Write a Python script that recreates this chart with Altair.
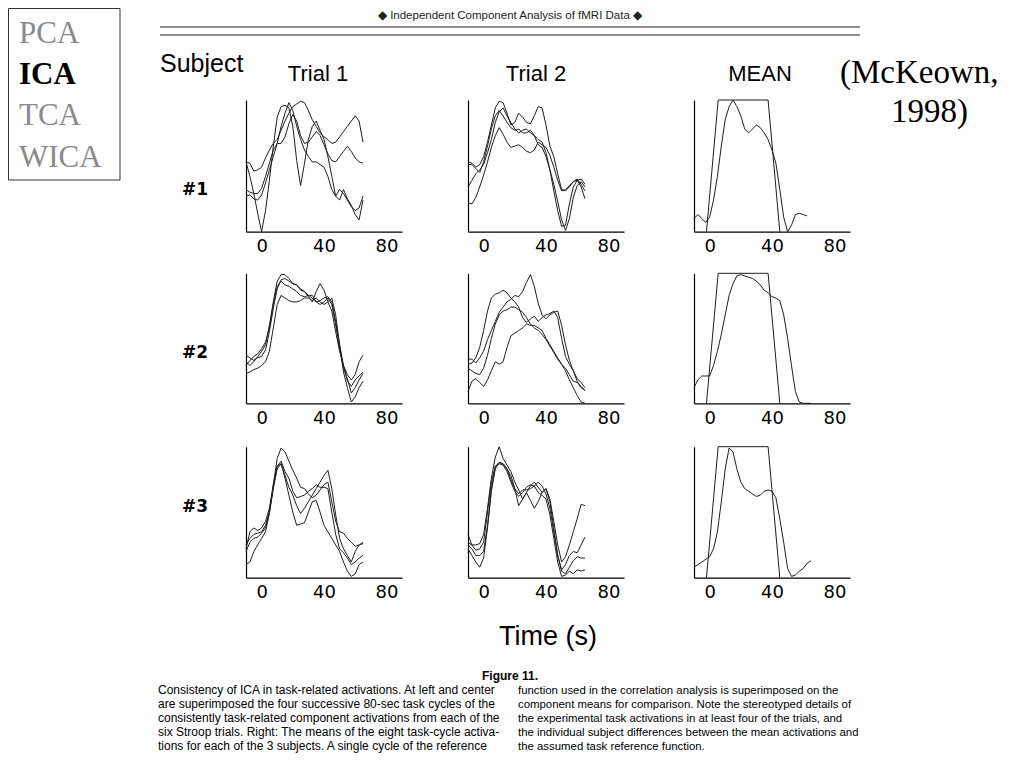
import altair as alt
import pandas as pd

# ---------------- data ----------------
T = [-10, -7.5, -5, -2.5, 0, 2.5, 5, 7.5, 10, 12.5, 15, 17.5, 20, 22.5, 25, 27.5,
     30, 32.5, 35, 37.5, 40, 42.5, 45, 47.5, 50, 52.5, 55, 57.5, 60, 62.5, 65]

S1_T1 = [
    [.53,.52,.46,.47,.49,.56,.62,.67,.70,.77,.84,.90,.95,.97,.99,.98,.92,.85,.80,.75,.72,.70,.67,.68,.72,.76,.80,.84,.88,.84,.68],
    [.32,.30,.29,.29,.33,.42,.52,.62,.67,.67,.72,.82,.89,.84,.73,.67,.68,.72,.76,.73,.66,.59,.54,.53,.57,.61,.65,.61,.56,.53,.52],
    [.53,.42,.29,.14,0,.16,.39,.65,.87,.95,.96,.94,.80,.54,.35,.52,.70,.80,.84,.77,.70,.57,.42,.27,.24,.32,.25,.20,.13,.09,.24],
    [.27,.28,.25,.24,.28,.37,.47,.57,.67,.80,.90,.98,.92,.80,.70,.62,.57,.53,.53,.51,.49,.42,.32,.27,.32,.29,.24,.19,.16,.18,.27],
]
S1_T2 = [
    [.53,.52,.49,.51,.57,.68,.81,.94,.99,.98,.90,.81,.83,.90,.87,.83,.82,.88,.95,.94,.81,.65,.57,.44,.32,.31,.34,.38,.40,.36,.31],
    [.22,.21,.26,.34,.43,.53,.64,.73,.79,.74,.68,.64,.65,.66,.64,.61,.60,.62,.68,.66,.64,.58,.49,.39,.31,.32,.35,.38,.39,.34,.25],
    [.34,.39,.44,.47,.51,.60,.70,.83,.91,.94,.88,.83,.78,.75,.77,.78,.75,.73,.70,.68,.60,.47,.31,.16,.04,.05,.21,.34,.39,.40,.36],
    [.51,.51,.48,.45,.53,.65,.78,.88,.92,.88,.83,.79,.77,.78,.75,.75,.77,.73,.66,.64,.57,.47,.36,.23,.09,.01,.10,.26,.35,.38,.34],
]
S1_MEAN = [.10,.13,.10,.07,.11,.24,.42,.65,.85,.95,1.0,.95,.88,.78,.75,.78,.81,.79,.75,.70,.62,.52,.32,.11,0,.05,.13,.14,.13,.12,None]

S2_T1 = [
    [.32,.29,.32,.36,.40,.45,.60,.78,.94,.99,.99,.96,.92,.91,.88,.86,.83,.81,.78,.79,.81,.82,.78,.63,.45,.29,.17,.13,.18,.21,.24],
    [.37,.35,.33,.35,.36,.41,.55,.73,.88,.95,.96,.94,.92,.91,.87,.86,.82,.78,.86,.92,.87,.78,.71,.55,.40,.29,.22,.18,.22,.32,.37],
    [.23,.24,.26,.27,.29,.32,.40,.58,.76,.83,.81,.79,.78,.78,.79,.81,.81,.79,.81,.78,.76,.78,.81,.68,.45,.24,.12,.01,.05,.12,.17],
    [.29,.33,.36,.38,.42,.47,.58,.76,.90,.94,.91,.90,.88,.86,.83,.82,.83,.83,.78,.76,.78,.81,.76,.60,.42,.27,.19,.08,.12,.18,.23],
]
S2_T2 = [
    [.34,.34,.31,.35,.40,.49,.56,.63,.70,.74,.78,.80,.83,.82,.86,.93,.99,.90,.77,.68,.65,.68,.70,.71,.60,.45,.33,.25,.17,.12,.10],
    [.30,.31,.35,.43,.56,.71,.81,.84,.85,.87,.85,.81,.78,.74,.66,.62,.65,.67,.63,.66,.68,.69,.71,.66,.50,.36,.30,.25,.19,.16,.12],
    [.09,.17,.19,.16,.13,.18,.25,.32,.30,.32,.43,.52,.54,.56,.58,.61,.60,.60,.58,.56,.50,.45,.40,.35,.30,.25,.18,.12,.06,.01,0],
    [.27,.25,.23,.22,.27,.37,.50,.61,.68,.71,.72,.74,.74,.72,.70,.66,.61,.58,.56,.53,.49,.44,.39,.34,.30,.27,.22,.17,.16,.13,.10],
]
S2_MEAN = [.12,.18,.21,.21,.21,.29,.40,.53,.68,.83,.92,.98,.99,.98,.97,.96,.94,.91,.87,.85,.82,.81,.79,.68,.50,.29,.09,.01,0,0,0]

S3_T1 = [
    [.25,.30,.33,.34,.35,.40,.50,.71,.91,.99,.96,.89,.82,.76,.69,.68,.64,.61,.63,.67,.71,.73,.58,.43,.35,.34,.30,.27,.24,.25,.27],
    [.20,.27,.30,.31,.34,.38,.50,.69,.83,.87,.78,.69,.63,.55,.49,.53,.58,.63,.68,.73,.78,.82,.68,.48,.30,.22,.17,.12,.20,.25,.26],
    [.10,.12,.20,.25,.30,.35,.49,.68,.85,.87,.76,.63,.50,.40,.41,.42,.50,.58,.59,.50,.40,.35,.30,.25,.20,.12,.05,.01,.03,.10,.12],
    [.22,.35,.38,.36,.38,.43,.53,.71,.85,.89,.81,.76,.66,.61,.62,.63,.66,.68,.71,.69,.69,.68,.50,.33,.22,.19,.15,.10,.12,.15,.17],
]
S3_T2 = [
    [.27,.25,.25,.26,.33,.53,.76,.92,1.0,.91,.86,.81,.73,.67,.60,.65,.70,.73,.69,.65,.68,.60,.43,.25,.12,.16,.25,.35,.45,.56,.55],
    [.33,.25,.21,.22,.27,.50,.73,.85,.88,.87,.83,.78,.68,.55,.60,.65,.59,.53,.58,.65,.68,.58,.38,.17,.06,.10,.17,.20,.19,.25,.31],
    [.22,.17,.12,.08,.15,.38,.66,.83,.88,.87,.83,.75,.68,.64,.67,.67,.68,.70,.73,.70,.64,.53,.35,.17,.05,.03,.08,.13,.16,.15,.15],
    [.25,.22,.17,.17,.20,.40,.68,.85,.87,.86,.81,.73,.66,.62,.65,.69,.71,.70,.65,.63,.60,.48,.30,.12,.01,.02,.05,.03,.06,.05,.06],
]
S3_MEAN = [.08,.10,.12,.14,.16,.22,.35,.58,.83,.99,.96,.83,.73,.68,.66,.64,.62,.63,.66,.67,.66,.61,.45,.27,.07,.01,.02,.05,.07,.11,.13]

REF_T = [-2, 5.5, 37.5, 45]
REF_V = [0, 1, 1, 0]

X_TICKS = [0, 40, 80]
METHODS = ["PCA", "ICA", "TCA", "WICA"]
COLUMN_TITLES = ["Trial 1", "Trial 2", "MEAN"]
ROW_TITLES = ["#1", "#2", "#3"]
HEADER = "\u25C6 Independent Component Analysis of fMRI Data \u25C6"
CAPTION_LEFT = [
    "Consistency of ICA in task-related activations. At left and center",
    "are superimposed the four successive 80-sec task cycles of the",
    "consistently task-related component activations from each of the",
    "six Stroop trials. Right: The means of the eight task-cycle activa-",
    "tions for each of the 3 subjects. A single cycle of the reference",
]
CAPTION_RIGHT = [
    "function used in the correlation analysis is superimposed on the",
    "component means for comparison. Note the stereotyped details of",
    "the experimental task activations in at least four of the trials, and",
    "the individual subject differences between the mean activations and",
    "the assumed task reference function.",
]

# ---------------- layout ----------------
W, H = 1000, 746
COL_X = [(238, 394), (460, 616), (686, 842)]
ROW_Y = [(223.7, 92), (395.3, 265.3), (569.7, 438.7)]
SANS = "Liberation Sans"
WIDE = "DejaVu Sans"
SERIF = "Liberation Serif"
LINE_COLOR = "#1e1e1e"

dummy = pd.DataFrame({"d": [0]})


def panel(curves, ref, col, row):
    recs = []
    for k, c in enumerate(curves):
        for t, v in zip(T, c):
            if v is not None:
                recs.append({"t": t, "v": v, "s": f"c{k}"})
    if ref:
        for t, v in zip(REF_T, REF_V):
            recs.append({"t": t, "v": v, "s": "ref"})
    df = pd.DataFrame(recs)
    x0, x1 = COL_X[col]
    yb, yt = ROW_Y[row]
    return alt.Chart(df).mark_line(color=LINE_COLOR, strokeWidth=1).encode(
        x=alt.X("t:Q",
                scale=alt.Scale(domain=[-10, 90], range=[x0, x1], nice=False, zero=False),
                axis=alt.Axis(orient="bottom", offset=-(H - yb), values=X_TICKS, title=None,
                              grid=False, ticks=False, labelFlush=False, labelFont=WIDE,
                              labelFontSize=18, labelColor="black", labelPadding=6,
                              domainColor="black", domainWidth=1.2)),
        y=alt.Y("v:Q",
                scale=alt.Scale(domain=[0, 1], range=[yb, yt], nice=False, zero=False),
                axis=alt.Axis(orient="left", offset=-x0, title=None, grid=False, ticks=False,
                              labels=False, domainColor="black", domainWidth=1.2)),
        detail="s:N",
    )


def txt(s, x, y, size, font=SANS, weight="normal", color="black", align="left"):
    return alt.Chart(dummy).mark_text(
        text=s, fontSize=size, font=font, fontWeight=weight, color=color,
        align=align, baseline="alphabetic"
    ).encode(x=alt.value(x), y=alt.value(y))


layers = []
grid = [
    [(S1_T1, False), (S1_T2, False), ([S1_MEAN], True)],
    [(S2_T1, False), (S2_T2, False), ([S2_MEAN], True)],
    [(S3_T1, False), (S3_T2, False), ([S3_MEAN], True)],
]
for r in range(3):
    for c in range(3):
        curves, ref = grid[r][c]
        layers.append(panel(curves, ref, c, r))

# method box
layers.append(alt.Chart(dummy).mark_rect(fillOpacity=0, stroke="#333", strokeWidth=1).encode(
    x=alt.value(0.5), x2=alt.value(112), y=alt.value(0.5), y2=alt.value(172)))
for i, m in enumerate(METHODS):
    bold = m == "ICA"
    layers.append(txt(m, 11, 35 + i * 41.2, 31, font=SERIF,
                      weight="bold" if bold else "normal",
                      color="black" if bold else "#8a8a8a"))

# header
layers.append(txt(HEADER, 502, 11, 11.5, align="center", color="#222"))
for yy in (19, 27):
    layers.append(alt.Chart(dummy).mark_rule(color="#222", strokeWidth=1).encode(
        x=alt.value(152), x2=alt.value(852), y=alt.value(yy)))

layers.append(txt("Subject", 152, 64, 25))
for name, cx in zip(COLUMN_TITLES, [310, 528, 752]):
    layers.append(txt(name, cx, 73, 22, align="center"))
for name, yy in zip(ROW_TITLES, [187, 350, 504]):
    layers.append(txt(name, 200, yy, 17, font=WIDE, weight="bold", align="right"))

layers.append(txt("(McKeown,", 832, 75, 33, font=SERIF))
layers.append(txt("1998)", 960, 114, 33, font=SERIF, align="right"))

layers.append(txt("Time (s)", 540, 637, 27, align="center"))
layers.append(txt("Figure 11.", 502, 672, 12, weight="bold", align="center"))
for i, line in enumerate(CAPTION_LEFT):
    layers.append(txt(line, 150, 686 + i * 14, 12))
for i, line in enumerate(CAPTION_RIGHT):
    layers.append(txt(line, 510, 686 + i * 14, 11.4))

chart = alt.layer(*layers).resolve_scale(
    x="independent", y="independent"
).resolve_axis(
    x="independent", y="independent"
).properties(
    width=W, height=H, autosize=alt.AutoSizeParams(type="none"), padding=0
).configure_view(stroke=None)

chart.save("out.html", embed_options={"renderer": "svg", "actions": False})
